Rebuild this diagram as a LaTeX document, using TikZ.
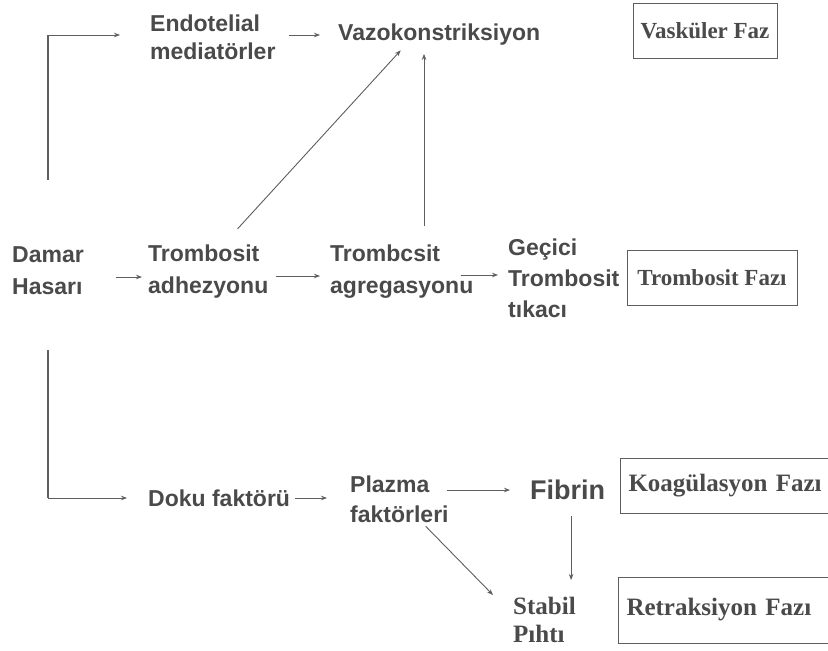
\documentclass[tikz,border=0pt]{standalone}
\usepackage{fontspec}
\setmainfont{Liberation Serif}
\newfontfamily\sansf{Liberation Sans}
\usetikzlibrary{arrows.meta,calc}
\definecolor{tc}{HTML}{4A4A4A}
\definecolor{lc}{HTML}{5E5E5E}
\begin{document}
\begin{tikzpicture}[x=1pt,y=-1pt,
  txt/.style={font=\sansf\bfseries\fontsize{23}{31}\selectfont, text=tc, inner sep=0pt, align=left, anchor=west},
  stxt/.style={font=\rmfamily\bfseries\fontsize{25}{28}\selectfont, text=tc, inner sep=0pt, align=left, anchor=west},
  phase/.style={draw=lc, line width=1pt, font=\rmfamily\bfseries\fontsize{23}{28}\selectfont, text=tc, inner sep=0pt, minimum height=55pt},
  widephase/.style={phase, anchor=west, font=\rmfamily\bfseries\fontsize{25}{28}\selectfont, inner xsep=8pt, text width=244pt, align=left},
  arr/.style={draw=lc, line width=0.9pt, -{Stealth[length=6pt,width=4.5pt]}},
  trunk/.style={draw=lc, line width=1.4pt}]
\useasboundingbox (0,0) rectangle (828,651);
\fill[white] (0,0) rectangle (828,651);
% text nodes
\node[txt, font=\sansf\bfseries\fontsize{23}{28}\selectfont] (endo) at (150,37) {Endotelial\\mediatörler};
\node[txt] (vazo) at (338,35) {Vazokonstriksiyon};
\node[txt, font=\sansf\bfseries\fontsize{23}{32}\selectfont] (damar) at (12,271) {Damar\\Hasarı};
\node[txt, font=\sansf\bfseries\fontsize{23}{32}\selectfont] (adhez) at (148,272) {Trombosit\\adhezyonu};
\node[txt, font=\sansf\bfseries\fontsize{23}{32}\selectfont] (agreg) at (330,272) {Trombcsit\\agregasyonu};
\node[txt] (gecici) at (508,278) {Geçici\\Trombosit\\tıkacı};
\node[txt] (doku) at (148,498) {Doku faktörü};
\node[txt, font=\sansf\bfseries\fontsize{23}{30}\selectfont] (plazma) at (350,499) {Plazma\\faktörleri};
\node[txt, font=\sansf\bfseries\fontsize{27}{30}\selectfont] (fibrin) at (530,490) {Fibrin};
\node[stxt] (stabil) at (513,620) {Stabil\\Pıhtı};
% phase boxes
\node[phase, minimum width=144pt] (vask) at (705,30.5) {Vasküler Faz};
\node[phase, minimum width=170pt] (tfaz) at (712,277.5) {Trombosit Fazı};
\node[widephase] (kfaz) at (620,485.5) {Koagülasyon Fazı};
\node[widephase, minimum height=66pt] (rfaz) at (618,610) {Retraksiyon Fazı};
% free ends
\coordinate (top) at (48,180);
\coordinate (bot) at (48,350);
% connectors
\draw[trunk] (top) -- ([yshift=2pt]top |- endo.west);
\draw[arr, shorten >=30pt] ([yshift=2pt]top |- endo.west) -- ([yshift=2pt]endo.west);
\draw[arr, shorten <=13pt, shorten >=18pt] ([yshift=2pt]endo.east) -- ([yshift=2pt]endo.east -| vazo.west);
\coordinate (d1) at ($(adhez.north west)!0.62!(adhez.north east)$);
\coordinate (d2) at ($(vazo.south west)!0.33!(vazo.south east)$);
\draw[arr, shorten <=22pt, shorten >=6pt] (d1) -- (d2);
\coordinate (v1) at ($(agreg.north west)!0.655!(agreg.north east)$);
\draw[arr, shorten <=19pt, shorten >=8pt] (v1) -- (v1 |- vazo.south);
\draw[arr, shorten <=32pt, shorten >=6pt] ([yshift=-6pt]damar.east) -- ([yshift=-6pt]damar.east -| adhez.west);
\draw[arr, shorten <=7pt, shorten >=10pt] ([yshift=-4pt]adhez.east) -- ([yshift=-4pt]adhez.east -| agreg.west);
\draw[arr, shorten >=10pt] ([xshift=-13pt,yshift=-3pt]agreg.east) -- ([yshift=3pt]gecici.west);
\draw[trunk] (bot) -- (bot |- doku.west);
\draw[arr, shorten >=21pt] (bot |- doku.west) -- (doku.west);
\draw[arr, shorten <=5pt, shorten >=23pt] (doku.east) -- (doku.east -| plazma.west);
\draw[arr, shorten <=-2pt, shorten >=20pt] ([yshift=9pt]plazma.east) -- ([yshift=9pt]plazma.east -| fibrin.west);
\coordinate (f1) at ($(fibrin.south west)!0.545!(fibrin.south east)$);
\draw[arr, shorten <=16pt, shorten >=17pt] (f1) -- (f1 |- stabil.north);
\coordinate (p1) at ($(plazma.south west)!0.73!(plazma.south east)$);
\draw[arr, shorten <=5pt] (p1) -- ([xshift=-20pt,yshift=2pt]stabil.north west);
\end{tikzpicture}
\end{document}
